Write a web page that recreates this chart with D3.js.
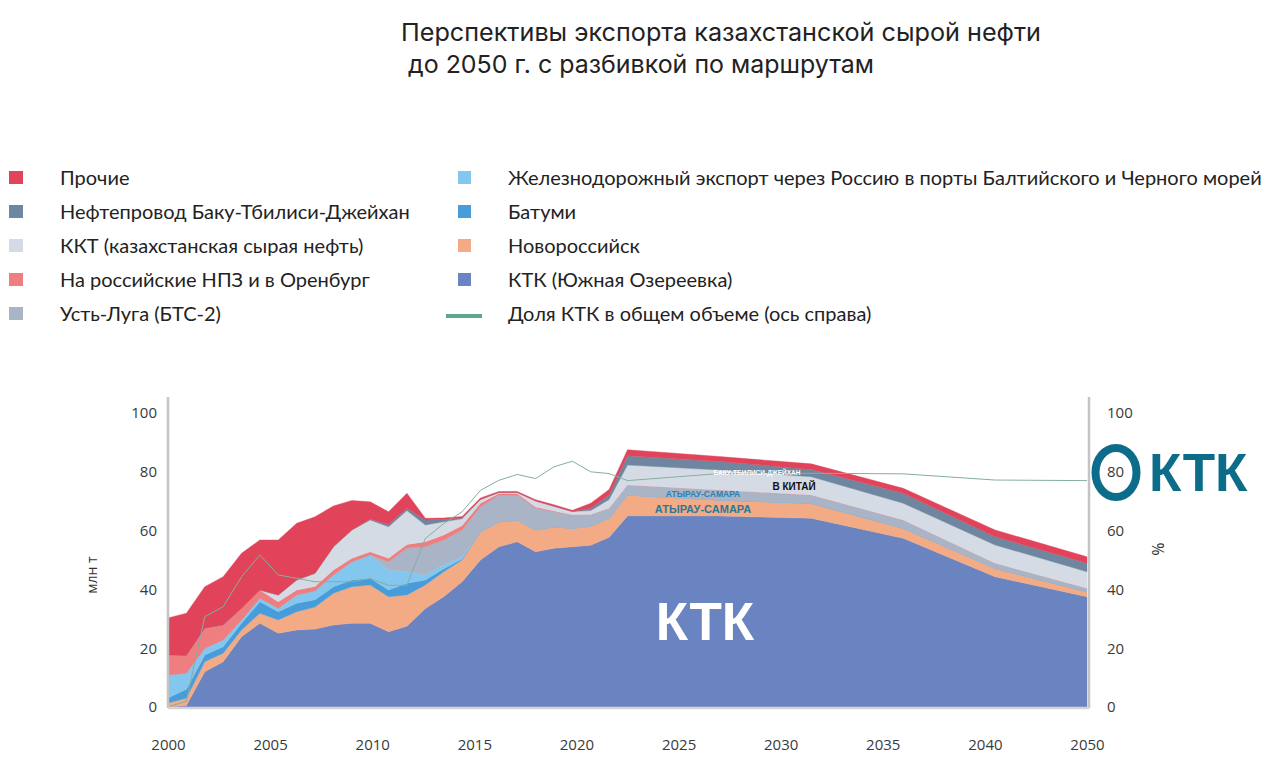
<!DOCTYPE html>
<html><head><meta charset="utf-8">
<script src="https://cdn.jsdelivr.net/npm/d3@7"></script>
<style>
html,body{margin:0;padding:0;background:#fff;}
svg{display:block;}
</style></head>
<body>
<svg id="chart" width="1280" height="768"></svg>
<script>
// ---------------- DATA ----------------
const years = [2000,2001,2002,2003,2004,2005,2006,2007,2008,2009,2010,2011,2012,2013,2014,2015,2016,2017,2018,2019,2020,2021,2022,2023,2024,2025,2030,2035,2040,2045,2050];
// million tonnes, by route (stack order bottom -> top)
const ktk      = [0,0.5,12,15.4,23.9,28.5,25.1,26.2,26.5,27.9,28.5,28.5,25.6,27.5,33.5,37.5,42.6,50,54.5,56.2,52.8,54,54.5,55,57.7,65,65,64.2,57.4,44.3,37.5];
const novoros  = [1.4,2.5,3.4,2.9,2.3,3.4,4.5,6.2,7.5,10.8,12.4,13,11.9,10.6,8,8.5,7.4,9.6,8.5,7.4,7.4,7.3,6.3,6.5,6.5,7.1,5.4,5.1,3.4,2.9,1.7];
const batumi   = [1.7,3,2.3,2.2,2.3,3.9,2.8,2.9,2.5,2.2,2.3,2.3,2.3,4,1.7,1,0.3,0,0,0,0,0,0,0,0,0,0,0,0,0,0];
const rail     = [7.8,5.5,2.3,2.3,1.1,1.2,1.2,2.8,3,4,6.2,7.9,6.8,4,1.7,1.5,0.8,0,0,0,0,0,0,0,0,0,0,0,0,0,0];
const ustLuga  = [0,0,0,0,0,0,0,0,0,0,0,0,2.8,8,9.6,8.3,9.1,8.5,9.1,8.5,7.4,5.1,4.5,4,3.4,3.4,3.4,2.8,2.8,1.7,1.2];
const rusRef   = [6.8,6,6.8,5.1,4,2.8,2.2,1.7,1.5,1.7,1.2,1.1,1.2,1.2,1.7,1.7,1.5,1.2,0.5,0.5,0.4,0.3,0.1,0,0,0,0,0,0,0,0];
const kkt      = [0,0,0,0,0,0,2.3,3.4,4.5,7.9,9.6,10.8,10.7,11.5,5.7,4.5,2.3,1.3,0.4,0.4,2.1,1.6,1.1,1.3,3,6.8,6.8,6.2,5.7,6.2,5.6];
const btc      = [0,0,0,0,0,0,0,0,0,0,0,0.3,0.8,0.8,1.7,0.8,0.3,0,0,0,0,0,0,0.8,1.5,3.2,2.9,2.5,3.4,2.8,2.9];
const other    = [12.6,14.4,14.1,16.4,18.7,17,18.7,19.3,19.2,13.9,10,5.9,4.3,5.1,0.6,0.5,0.5,0.5,0.3,0.3,0.4,0.5,0.4,1.7,1.9,2,1.7,1.9,1.7,2.3,2.2];
// share of KTK in total volume, % (right axis)
const ktkShare = [0,2,30.7,34.1,44.3,51.7,44.9,43.8,42.6,42.6,42.6,43.7,41.4,41.4,57.3,62.4,66.4,73.7,77.1,79.1,77.7,81.7,83.6,80,79.4,77,79.4,79.5,79.3,77.2,77];

const xTickLabels = ["2000","2005","2010","2015","2020","2025","2030","2035","2040","2050"];
const yTicks = [0,20,40,60,80,100];

const seriesKeys  = ["ktk","novoros","batumi","rail","ustLuga","rusRef","kkt","btc","other"];
const seriesNames = ["КТК (Южная Озереевка)","Новороссийск","Батуми","Железнодорожный экспорт через Россию в порты Балтийского и Черного морей","Усть-Луга (БТС-2)","На российские НПЗ и в Оренбург","ККТ (казахстанская сырая нефть)","Нефтепровод Баку-Тбилиси-Джейхан","Прочие"];
const shareName = "Доля КТК в общем объеме (ось справа)";
const titleLines = ["Перспективы экспорта казахстанской сырой нефти","до 2050 г. с разбивкой по маршрутам"];

// ---------------- STYLE ----------------
const colors = {ktk:"#6a84c1",novoros:"#f3ab86",batumi:"#489cda",rail:"#83c6ee",ustLuga:"#a9b4c7",rusRef:"#ee7e80",kkt:"#d5dbe4",btc:"#6f86a0",other:"#e1445a"};
const seriesData = {ktk,novoros,batumi,rail,ustLuga,rusRef,kkt,btc,other};

const rows = years.map((yr,i)=>{
  const r = {year:yr, share:ktkShare[i]};
  seriesKeys.forEach(k=>r[k]=seriesData[k][i]);
  return r;
});

const svg = d3.select("#chart");
svg.append("rect").attr("width",1280).attr("height",768).attr("fill","#fff");

const x = d3.scaleLinear().domain([2000,2050]).range([168,1087]);
const y = d3.scaleLinear().domain([0,100]).range([707,413]);
const xLab = d3.scalePoint().domain(xTickLabels).range([168,1087]);

// title
const tfont = "'Inter','Noto Sans',sans-serif";
svg.append("text").attr("x",401).attr("y",41).attr("font-family",tfont).attr("font-size",24.5)
  .attr("fill","#222").attr("textLength",640).attr("lengthAdjust","spacingAndGlyphs").text(titleLines[0]);
svg.append("text").attr("x",408).attr("y",73).attr("font-family",tfont).attr("font-size",24.5)
  .attr("fill","#222").attr("textLength",466).attr("lengthAdjust","spacingAndGlyphs").text(titleLines[1]);

// legend
const lfont = "Lato,'Open Sans',sans-serif";
const lsize = 20;
const leftOrder = ["other","btc","kkt","rusRef","ustLuga"];
const rightOrder = ["rail","batumi","novoros","ktk"];
leftOrder.forEach((k,i)=>{
  const cy = 178 + i*34;
  svg.append("rect").attr("x",9).attr("y",cy-7).attr("width",14).attr("height",13).attr("fill",colors[k]);
  svg.append("text").attr("x",60).attr("y",cy+7).attr("font-family",lfont).attr("font-size",lsize)
    .attr("fill","#222").text(seriesNames[seriesKeys.indexOf(k)]);
});
rightOrder.forEach((k,i)=>{
  const cy = 178 + i*34;
  svg.append("rect").attr("x",458).attr("y",cy-7).attr("width",13).attr("height",13).attr("fill",colors[k]);
  svg.append("text").attr("x",508).attr("y",cy+7).attr("font-family",lfont).attr("font-size",lsize)
    .attr("fill","#222").text(seriesNames[seriesKeys.indexOf(k)]);
});
svg.append("line").attr("x1",446).attr("x2",482).attr("y1",316).attr("y2",316).attr("stroke","#5da68f").attr("stroke-width",4);
svg.append("text").attr("x",508).attr("y",314+7).attr("font-family",lfont).attr("font-size",lsize)
  .attr("fill","#222").text(shareName);

// stacked areas
const stack = d3.stack().keys(seriesKeys);
const layers = stack(rows);
const area = d3.area().x(d=>x(d.data.year)).y0(d=>y(d[0])).y1(d=>y(d[1]));
svg.append("g").selectAll("path").data(layers).join("path")
  .attr("d",area).attr("fill",d=>colors[d.key]).attr("stroke",d=>colors[d.key]).attr("stroke-width",0.4);

// share line
const line = d3.line().x(d=>x(d.year)).y(d=>y(d.share));
svg.append("path").datum(rows).attr("d",line).attr("fill","none").attr("stroke","#86ae9f").attr("stroke-width",1);

// axes
const afont = "'Open Sans','Noto Sans',sans-serif";
svg.append("line").attr("x1",168).attr("x2",168).attr("y1",397).attr("y2",708).attr("stroke","#c4c4c4").attr("stroke-width",2.5);
svg.append("line").attr("x1",1089).attr("x2",1089).attr("y1",397).attr("y2",708).attr("stroke","#c4c4c4").attr("stroke-width",2.5);
svg.append("line").attr("x1",168).attr("x2",1089).attr("y1",708).attr("y2",708).attr("stroke","#d4d4d4").attr("stroke-width",2.5);

const gl = svg.append("g").attr("transform","translate(168,0)")
  .call(d3.axisLeft(y).tickValues(yTicks).tickSize(0).tickPadding(11).tickFormat(d3.format("d")));
const gr = svg.append("g").attr("transform","translate(1089,0)")
  .call(d3.axisRight(y).tickValues(yTicks).tickSize(0).tickPadding(18).tickFormat(d3.format("d")));
const gb = svg.append("g").attr("transform","translate(0,707)")
  .call(d3.axisBottom(xLab).tickSize(0).tickPadding(32));
[gl,gr,gb].forEach(g=>{
  g.select(".domain").remove();
  g.selectAll("text").attr("font-family",afont).attr("font-size",15).attr("fill","#3a3a3a");
});

svg.append("text").attr("transform","translate(97,575) rotate(-90)").attr("text-anchor","middle")
  .attr("font-family",afont).attr("font-size",14).attr("fill","#333").text("млн т");
svg.append("text").attr("transform","translate(1152,549) rotate(90)").attr("text-anchor","middle")
  .attr("font-family",afont).attr("font-size",16).attr("fill","#333").text("%");

// in-chart labels
const bfont = "Arial,'Liberation Sans',sans-serif";
svg.append("text").attr("x",705).attr("y",640).attr("text-anchor","middle").attr("font-family",bfont)
  .attr("font-weight","bold").attr("font-size",53).attr("fill","#fff").text("КТК");
svg.append("text").attr("x",703).attr("y",513).attr("text-anchor","middle").attr("font-family",bfont)
  .attr("font-weight","bold").attr("font-size",11).attr("fill","#2a7896").text("АТЫРАУ-САМАРА");
svg.append("text").attr("x",703).attr("y",497).attr("text-anchor","middle").attr("font-family",bfont)
  .attr("font-weight","bold").attr("font-size",8.5).attr("fill","#2d80b0").text("АТЫРАУ-САМАРА");
svg.append("text").attr("x",794).attr("y",490).attr("text-anchor","middle").attr("font-family",bfont)
  .attr("font-weight","bold").attr("font-size",10).attr("fill","#111").text("В КИТАЙ");
svg.append("text").attr("x",757).attr("y",475).attr("text-anchor","middle").attr("font-family",bfont)
  .attr("font-weight","bold").attr("font-size",6.5).attr("fill","#fff").text("БАКУ-ТБИЛИСИ-ДЖЕЙХАН");

// logo
svg.append("ellipse").attr("cx",1116).attr("cy",472.5).attr("rx",20.5).attr("ry",24.5)
  .attr("fill","none").attr("stroke","#0e6c8b").attr("stroke-width",8);
svg.append("text").attr("x",1149).attr("y",491).attr("font-family",bfont).attr("font-weight","bold")
  .attr("font-size",53).attr("fill","#0e6c8b").text("КТК");
</script>
</body></html>
